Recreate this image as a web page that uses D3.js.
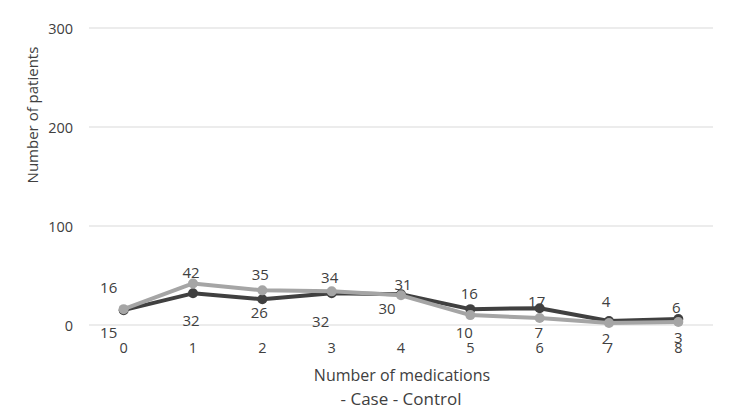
<!DOCTYPE html>
<html><head><meta charset="utf-8">
<script src="https://cdn.jsdelivr.net/npm/d3@7"></script>
<style>body{margin:0;background:#fff}svg{display:block}text{font-family:"Open Sans","Noto Sans",sans-serif;fill:#404040}</style>
</head><body><svg id="c" width="739" height="410"></svg>
<script>
const categories = ["0","1","2","3","4","5","6","7","8"];
const caseValues = [15, 32, 26, 32, 31, 16, 17, 4, 6];
const controlValues = [16, 42, 35, 34, 30, 10, 7, 2, 3];
const yTicks = [0, 100, 200, 300];

const svg = d3.select("#c");
const x = d3.scaleBand().domain(categories).range([89, 713]);
const y = d3.scaleLinear().domain([0, 300]).range([325, 28]);
const cx = d => x(d) + x.bandwidth() / 2;

// gridlines
svg.append("g").selectAll("line").data(yTicks).join("line")
  .attr("x1", 89).attr("x2", 713).attr("y1", d => y(d)).attr("y2", d => y(d))
  .attr("stroke", "#d9d9d9").attr("stroke-width", 1);

// y axis labels
const yAxis = svg.append("g").attr("transform", "translate(80,0)")
  .call(d3.axisLeft(y).tickValues(yTicks).tickSize(0).tickPadding(7));
yAxis.select(".domain").remove();
yAxis.selectAll("text").style("font-size", "14.5px").attr("fill", "#404040")
  .attr("dy", null).attr("dominant-baseline", "central");

// x axis labels
const xAxis = svg.append("g").attr("transform", "translate(0,347)")
  .call(d3.axisBottom(x).tickSize(0).tickPadding(0));
xAxis.select(".domain").remove();
xAxis.selectAll("text").style("font-size", "14.5px").attr("fill", "#404040")
  .attr("dy", null).attr("dominant-baseline", "central");

const series = [
  {name: "Case", values: caseValues, color: "#404040",
   off: [[-15,22],[-2,27],[-3,13],[-11,28],[2,-10],[-1,-16],[-3,-7],[-3,-20],[-2,-12]]},
  {name: "Control", values: controlValues, color: "#a5a5a5",
   off: [[-15,-22],[-2,-11],[-2,-16],[-2,-14],[-14,13],[-6,17],[-1,14],[-3,15],[0,15]]}
];

const line = d3.line().x((d, i) => cx(categories[i])).y(d => y(d));

series.forEach(s => {
  svg.append("path").datum(s.values).attr("d", line)
    .attr("fill", "none").attr("stroke", s.color).attr("stroke-width", 4)
    .attr("stroke-linejoin", "round");
  svg.append("g").selectAll("circle").data(s.values).join("circle")
    .attr("cx", (d, i) => cx(categories[i])).attr("cy", d => y(d)).attr("r", 5)
    .attr("fill", s.color);
});

series.forEach(s => {
  svg.append("g").selectAll("text").data(s.values).join("text")
    .attr("x", (d, i) => cx(categories[i]) + s.off[i][0])
    .attr("y", (d, i) => y(d) + s.off[i][1])
    .attr("text-anchor", "middle").attr("dominant-baseline", "central")
    .style("font-size", "15px").text(d => d);
});

// axis titles
svg.append("text").attr("transform", "translate(32,115) rotate(-90)")
  .attr("text-anchor", "middle").attr("dominant-baseline", "central")
  .style("font-size", "15px").text("Number of patients");
svg.append("text").attr("x", 402).attr("y", 375)
  .attr("text-anchor", "middle").attr("dominant-baseline", "central")
  .style("font-size", "16px").text("Number of medications");
svg.append("text").attr("x", 401).attr("y", 398)
  .attr("text-anchor", "middle").attr("dominant-baseline", "central")
  .style("font-size", "17px").text("- " + series[0].name + " - " + series[1].name);
</script></body></html>
